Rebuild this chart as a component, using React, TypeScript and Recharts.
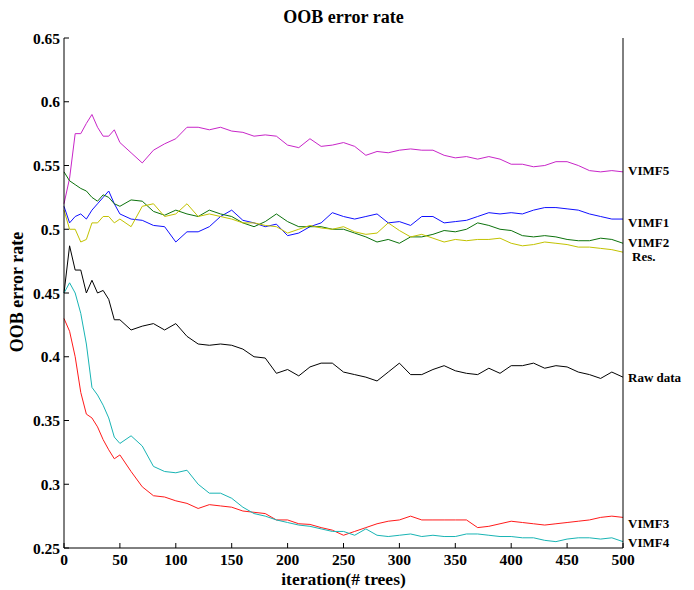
import React from 'react';
import { LineChart, Line, XAxis, YAxis } from 'recharts';

const FONT = "'Liberation Serif', 'Times New Roman', serif";

const iterations = [
  0, 5, 10, 15, 20, 25, 30, 35, 40, 45, 50,
  60, 70, 80, 90, 100, 110, 120, 130, 140, 150, 160, 170, 180, 190, 200,
  210, 220, 230, 240, 250, 260, 270, 280, 290, 300, 310, 320, 330, 340, 350,
  360, 370, 380, 390, 400, 410, 420, 430, 440, 450, 460, 470, 480, 490, 500,
];

const vimf5 = [
  0.52, 0.54, 0.575, 0.575, 0.583, 0.59, 0.58, 0.573, 0.573, 0.578, 0.568,
  0.56, 0.552, 0.562, 0.567, 0.571, 0.58, 0.58, 0.578, 0.58, 0.577, 0.576, 0.573, 0.574, 0.573, 0.566,
  0.564, 0.571, 0.565, 0.566, 0.568, 0.565, 0.558, 0.561, 0.56, 0.562, 0.563, 0.562, 0.562, 0.558, 0.556,
  0.557, 0.555, 0.557, 0.555, 0.551, 0.551, 0.549, 0.55, 0.553, 0.553, 0.55, 0.546, 0.545, 0.546, 0.545,
];

const vimf1 = [
  0.518, 0.505, 0.51, 0.512, 0.508, 0.515, 0.52, 0.525, 0.53, 0.52, 0.512,
  0.508, 0.507, 0.503, 0.502, 0.49, 0.498, 0.498, 0.502, 0.51, 0.515, 0.507, 0.505, 0.502, 0.504, 0.495,
  0.497, 0.502, 0.505, 0.513, 0.51, 0.508, 0.51, 0.512, 0.505, 0.506, 0.503, 0.51, 0.51, 0.505, 0.506,
  0.507, 0.51, 0.513, 0.512, 0.513, 0.512, 0.515, 0.517, 0.517, 0.516, 0.515, 0.512, 0.51, 0.508, 0.508,
];

const vimf2 = [
  0.545, 0.538, 0.535, 0.532, 0.53, 0.525, 0.522, 0.527, 0.525, 0.52, 0.518,
  0.523, 0.522, 0.514, 0.511, 0.515, 0.512, 0.51, 0.515, 0.512, 0.51, 0.505, 0.502, 0.506, 0.512, 0.506,
  0.502, 0.502, 0.502, 0.5, 0.5, 0.497, 0.494, 0.49, 0.492, 0.489, 0.494, 0.494, 0.496, 0.499, 0.498,
  0.5, 0.505, 0.503, 0.5, 0.499, 0.495, 0.494, 0.495, 0.494, 0.492, 0.491, 0.491, 0.493, 0.492, 0.489,
];

const res = [
  0.515, 0.5, 0.5, 0.49, 0.492, 0.505, 0.505, 0.51, 0.51, 0.505, 0.508,
  0.502, 0.518, 0.52, 0.51, 0.512, 0.52, 0.51, 0.512, 0.51, 0.508, 0.505, 0.505, 0.503, 0.502, 0.497,
  0.5, 0.503, 0.501, 0.5, 0.502, 0.498, 0.496, 0.497, 0.505, 0.499, 0.494, 0.496, 0.493, 0.49, 0.492,
  0.491, 0.492, 0.492, 0.493, 0.489, 0.487, 0.488, 0.49, 0.489, 0.488, 0.486, 0.486, 0.485, 0.484, 0.482,
];

const rawData = [
  0.45, 0.487, 0.468, 0.468, 0.45, 0.46, 0.45, 0.452, 0.445, 0.429, 0.429,
  0.421, 0.424, 0.426, 0.421, 0.426, 0.416, 0.41, 0.409, 0.41, 0.409, 0.406, 0.4, 0.399, 0.387, 0.39,
  0.385, 0.392, 0.395, 0.395, 0.388, 0.386, 0.384, 0.381, 0.388, 0.395, 0.386, 0.386, 0.39, 0.393, 0.389,
  0.387, 0.386, 0.391, 0.387, 0.393, 0.393, 0.395, 0.391, 0.393, 0.392, 0.388, 0.386, 0.383, 0.388, 0.384,
];

const vimf3 = [
  0.43, 0.42, 0.4, 0.372, 0.355, 0.352, 0.345, 0.335, 0.327, 0.32, 0.323,
  0.31, 0.298, 0.291, 0.29, 0.287, 0.285, 0.281, 0.284, 0.283, 0.282, 0.279, 0.278, 0.277, 0.272, 0.272,
  0.269, 0.2685, 0.266, 0.264, 0.26, 0.263, 0.266, 0.269, 0.271, 0.272, 0.275, 0.272, 0.272, 0.272, 0.272,
  0.272, 0.266, 0.267, 0.269, 0.271, 0.27, 0.269, 0.268, 0.269, 0.27, 0.271, 0.272, 0.274, 0.275, 0.274,
];

const vimf4 = [
  0.45, 0.458, 0.45, 0.434, 0.41, 0.376, 0.37, 0.362, 0.352, 0.337, 0.332,
  0.338, 0.33, 0.314, 0.31, 0.309, 0.311, 0.3, 0.293, 0.293, 0.289, 0.282, 0.277, 0.275, 0.272, 0.27,
  0.268, 0.267, 0.265, 0.263, 0.263, 0.26, 0.265, 0.26, 0.259, 0.26, 0.261, 0.259, 0.26, 0.259, 0.259,
  0.261, 0.261, 0.26, 0.259, 0.259, 0.258, 0.258, 0.256, 0.255, 0.257, 0.258, 0.258, 0.257, 0.258, 0.255,
];

const xTicks = [0, 50, 100, 150, 200, 250, 300, 350, 400, 450, 500];
const yTicks = [0.25, 0.3, 0.35, 0.4, 0.45, 0.5, 0.55, 0.6, 0.65];

const series = [
  { key: 'vimf5', name: 'VIMF5', values: vimf5, color: '#c825c8', dy: -1, dx: 0 },
  { key: 'vimf1', name: 'VIMF1', values: vimf1, color: '#1010ff', dy: 3, dx: 0 },
  { key: 'vimf2', name: 'VIMF2', values: vimf2, color: '#0c720c', dy: -1, dx: 0 },
  { key: 'res', name: 'Res.', values: res, color: '#c2c200', dy: 4, dx: 4 },
  { key: 'raw', name: 'Raw data', values: rawData, color: '#000000', dy: 0, dx: 0 },
  { key: 'vimf3', name: 'VIMF3', values: vimf3, color: '#ff1a1a', dy: 6, dx: 0 },
  { key: 'vimf4', name: 'VIMF4', values: vimf4, color: '#18b4b4', dy: 1, dx: 0 },
];

const data = iterations.map((it, i) => {
  const row: Record<string, number> = { it };
  series.forEach((s) => {
    row[s.key] = s.values[i];
  });
  return row;
});

const lastIndex = iterations.length - 1;

const makeEndLabel = (text: string, dy: number, dx: number) => (props: any) => {
  const { x, y, index } = props;
  if (index !== lastIndex) return null;
  return (
    <text
      key={`lbl-${text}`}
      x={Number(x) + 5 + dx}
      y={Number(y) + dy}
      dominantBaseline="central"
      fontFamily={FONT}
      fontWeight="bold"
      fontSize={13}
      fill="#000"
    >
      {text}
    </text>
  );
};

const fmt = (v: number) => String(Number(v.toFixed(2)));

const TM = 10; // tick margin used to recover the axis line position
const TICK_LEN = 5;
const TICK_FONT = 15.5;

const BottomTick = (props: any) => {
  const { x, y, payload } = props;
  const axisY = Number(y) - TM;
  return (
    <g>
      <line x1={x} x2={x} y1={axisY} y2={axisY - TICK_LEN} stroke="#000" strokeWidth={1} />
      <text
        x={x}
        y={axisY + 17}
        textAnchor="middle"
        fontFamily={FONT}
        fontWeight="bold"
        fontSize={TICK_FONT}
        fill="#000"
      >
        {fmt(payload.value)}
      </text>
    </g>
  );
};

const LeftTick = (props: any) => {
  const { x, y, payload } = props;
  const axisX = Number(x) + TM;
  return (
    <g>
      <line x1={axisX} x2={axisX + TICK_LEN} y1={y} y2={y} stroke="#000" strokeWidth={1} />
      <text
        x={axisX - 4}
        y={y}
        textAnchor="end"
        dominantBaseline="central"
        fontFamily={FONT}
        fontWeight="bold"
        fontSize={TICK_FONT}
        fill="#000"
      >
        {fmt(payload.value)}
      </text>
    </g>
  );
};

const RightTick = (props: any) => {
  const { x, y } = props;
  const axisX = Number(x) - TM;
  return <line x1={axisX} x2={axisX - TICK_LEN} y1={y} y2={y} stroke="#000" strokeWidth={1} />;
};

const textStyle = {
  fontFamily: FONT,
  fontWeight: 'bold' as const,
  fontSize: 18,
  color: '#000',
  whiteSpace: 'nowrap' as const,
};

export default function App() {
  return (
    <div style={{ position: 'relative', width: 686, height: 582 }}>
      <div
        style={{
          ...textStyle,
          position: 'absolute',
          left: 56,
          width: 559,
          top: -1,
          textAlign: 'center',
          lineHeight: '20px',
        }}
      >
        OOB error rate
      </div>
      <div
        style={{
          ...textStyle,
          fontSize: 17.5,
          position: 'absolute',
          left: 56,
          width: 559,
          top: 563.5,
          textAlign: 'center',
          lineHeight: '14px',
          zIndex: 2,
        }}
      >
        iteration(# trees)
      </div>
      <div
        style={{
          ...textStyle,
          position: 'absolute',
          left: 9,
          top: 284,
          transform: 'translate(-50%, -50%) rotate(-90deg)',
          lineHeight: '20px',
        }}
      >
        OOB error rate
      </div>
      <LineChart
        width={686}
        height={582}
        data={data}
        margin={{ top: 30, right: 70, bottom: 0, left: 0 }}
      >
        <XAxis
          dataKey="it"
          type="number"
          domain={[0, 500]}
          ticks={xTicks}
          interval={0}
          height={42}
          tickSize={0}
          tickMargin={TM}
          tickLine={false}
          axisLine={{ stroke: '#000' }}
          tick={<BottomTick />}
        />
        <XAxis
          xAxisId="top"
          orientation="top"
          dataKey="it"
          type="number"
          domain={[0, 500]}
          height={0}
          tick={false}
          tickLine={false}
          axisLine={{ stroke: '#000' }}
        />
        <YAxis
          type="number"
          domain={[0.25, 0.65]}
          ticks={yTicks}
          interval={0}
          width={56}
          tickSize={0}
          tickMargin={TM}
          tickLine={false}
          axisLine={{ stroke: '#000' }}
          tick={<LeftTick />}
        />
        <YAxis
          yAxisId="right"
          orientation="right"
          type="number"
          domain={[0.25, 0.65]}
          ticks={yTicks}
          interval={0}
          width={1}
          tickSize={0}
          tickMargin={TM}
          tickLine={false}
          axisLine={{ stroke: '#000' }}
          tick={<RightTick />}
        />
        {series.map((s) => (
          <Line
            key={s.key}
            type="linear"
            dataKey={s.key}
            name={s.name}
            stroke={s.color}
            strokeWidth={1}
            dot={false}
            activeDot={false}
            isAnimationActive={false}
            label={makeEndLabel(s.name, s.dy, s.dx)}
          />
        ))}
      </LineChart>
    </div>
  );
}
